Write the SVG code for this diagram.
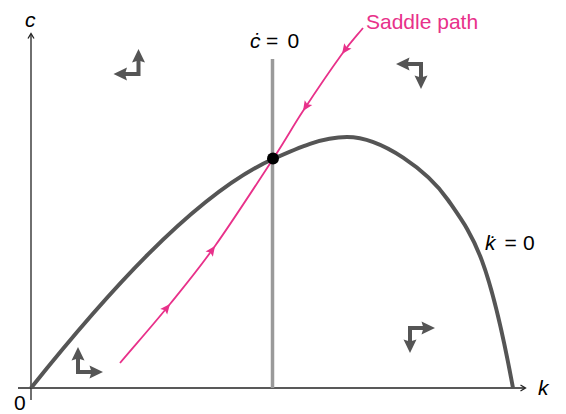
<svg xmlns="http://www.w3.org/2000/svg" width="566" height="414" viewBox="0 0 566 414">
<style>
text{font-family:"Liberation Sans",Arial,sans-serif;font-size:21px;fill:#000}
.it{font-style:italic}
.pink{fill:#e8318a}
.axis{stroke:#222;stroke-width:1.3;fill:none}
.kcurve{stroke:#555;stroke-width:4;fill:none}
.cline{stroke:#9a9a9a;stroke-width:3.5;fill:none}
.saddle{stroke:#e8318a;stroke-width:1.8;fill:none}
.sah{fill:#e8318a}
.lstem{stroke:#555;stroke-width:4;fill:none;stroke-linejoin:miter}
.lhead{fill:#555}
</style>
<defs>
<g id="larrow">
<path class="lstem" d="M0,-14 L0,0 L14,0"/>
<polygon class="lhead" points="0,-25 6.5,-11.5 0,-13.5 -6.5,-11.5"/>
<polygon class="lhead" points="25,0 11.5,6.5 13.5,0 11.5,-6.5"/>
</g>
<polygon id="sah" class="sah" points="0,0 -10,-4.5 -8,0 -10,4.5"/>
</defs>
<g id="axes">
<path class="axis" d="M31,400 L31,34"/>
<path class="axis" d="M28,38.5 L31,33.5 L34,38.5"/>
<path class="axis" d="M18,388 L525,388"/>
<path class="axis" d="M520.5,385 L525.5,388 L520.5,391"/>
<text id="label-c" class="it" x="25" y="27">c</text>
<text id="label-k" class="it" x="538" y="395">k</text>
<text id="label-0" x="14" y="410">0</text>
</g>
<g id="c-dot-zero">
<path class="cline" d="M272.5,59 L272.5,388"/>
<text x="250" y="48"><tspan class="it">ċ</tspan><tspan x="266">=</tspan><tspan x="287.5">0</tspan></text>
</g>
<g id="k-dot-zero">
<path class="kcurve" d="M31,388 C101,300.5 193,195 273,159 C298,147.75 322,137 347,137 C382,137 428,171 448,200 C473,236.25 488,253 513,388"/>
<text x="485" y="250"><tspan class="it">k&#x307;</tspan><tspan x="504.5">=</tspan><tspan x="523">0</tspan></text>
</g>
<g id="saddle-path">
<path class="saddle" d="M120,363 C136.7,343.3 154.2,323.5 170,304 C185.8,284.5 197.8,270.2 215,246 C232.2,221.8 258.3,181.5 273,159 C287.7,136.5 291.5,128.5 303,111 C314.5,93.5 332,67.8 342,54 C352,40.2 356,36.7 363,28"/>
<use href="#sah" transform="translate(170,304) rotate(-50.9)"/>
<use href="#sah" transform="translate(215,246) rotate(-54.6)"/>
<use href="#sah" transform="translate(303,111) rotate(123.3)"/>
<use href="#sah" transform="translate(342,54) rotate(125.9)"/>
<text class="pink" x="366" y="29">Saddle path</text>
</g>
<g id="steady-state">
<circle cx="273" cy="158.5" r="6" fill="#000"/>
</g>
<g id="dynamics">
<use id="arrow-nw" href="#larrow" transform="translate(138.5,74) scale(-1,1)"/>
<use id="arrow-ne" href="#larrow" transform="translate(421,64) rotate(180)"/>
<use id="arrow-sw" href="#larrow" transform="translate(78,372)"/>
<use id="arrow-se" href="#larrow" transform="translate(410,328) scale(1,-1)"/>
</g>
</svg>
